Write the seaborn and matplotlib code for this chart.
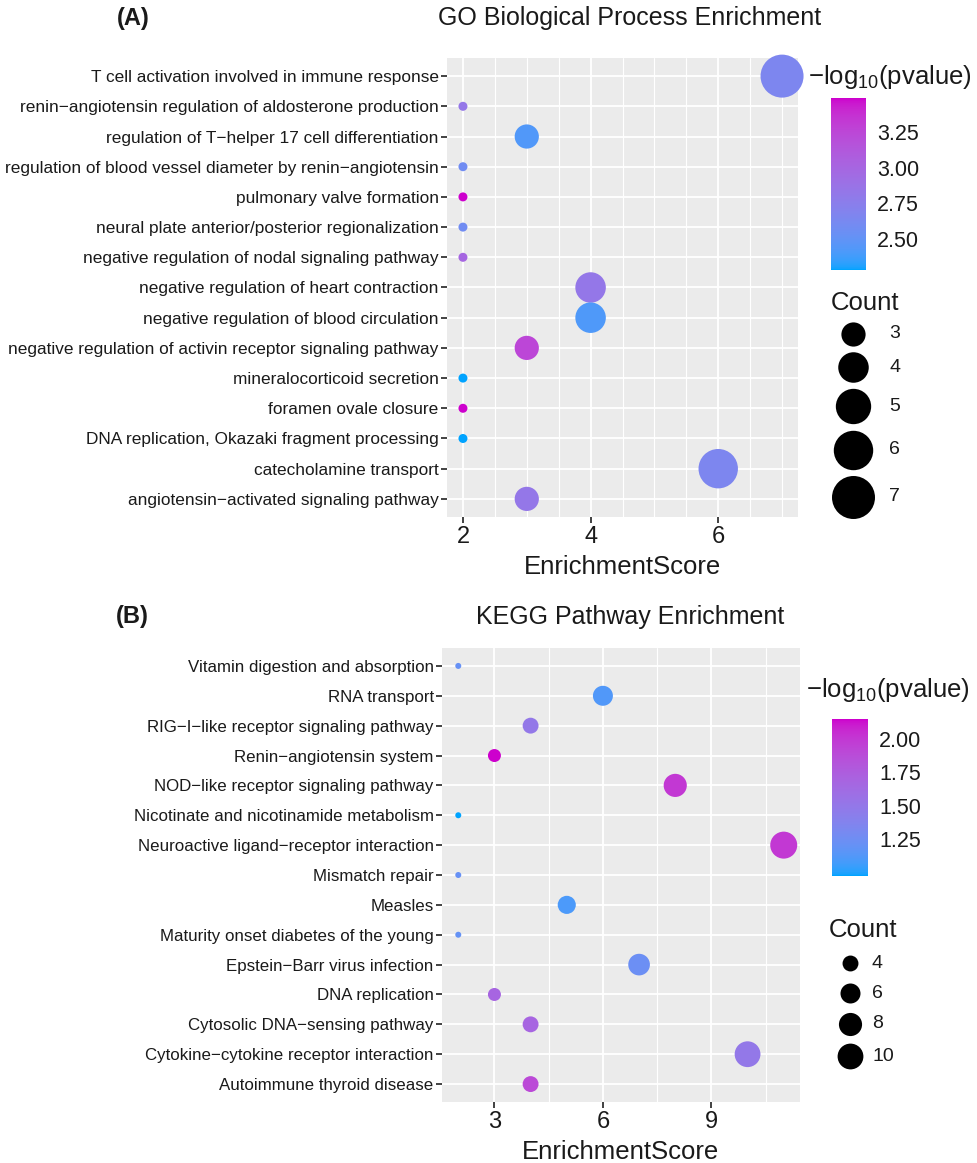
import numpy as np
import pandas as pd
import matplotlib
matplotlib.use("Agg")
import matplotlib.pyplot as plt
import seaborn as sns
from matplotlib.colors import LinearSegmentedColormap, Normalize, to_rgb
from matplotlib.cm import ScalarMappable
from matplotlib.ticker import FixedLocator, MultipleLocator

# ── DATA ──
go_terms = [
    "T cell activation involved in immune response",
    "renin\u2212angiotensin regulation of aldosterone production",
    "regulation of T\u2212helper 17 cell differentiation",
    "regulation of blood vessel diameter by renin\u2212angiotensin",
    "pulmonary valve formation",
    "neural plate anterior/posterior regionalization",
    "negative regulation of nodal signaling pathway",
    "negative regulation of heart contraction",
    "negative regulation of blood circulation",
    "negative regulation of activin receptor signaling pathway",
    "mineralocorticoid secretion",
    "foramen ovale closure",
    "DNA replication, Okazaki fragment processing",
    "catecholamine transport",
    "angiotensin\u2212activated signaling pathway",
]
go_score = [7, 2, 3, 2, 2, 2, 2, 4, 4, 3, 2, 2, 2, 6, 3]
go_count = [7, 2, 3, 2, 2, 2, 2, 4, 4, 3, 2, 2, 2, 6, 3]
go_logp  = [2.65, 2.83, 2.43, 2.58, 3.49, 2.58, 3.00, 2.83, 2.42, 3.25,
            2.28, 3.49, 2.28, 2.65, 2.83]

kegg_terms = [
    "Vitamin digestion and absorption",
    "RNA transport",
    "RIG\u2212I\u2212like receptor signaling pathway",
    "Renin\u2212angiotensin system",
    "NOD\u2212like receptor signaling pathway",
    "Nicotinate and nicotinamide metabolism",
    "Neuroactive ligand\u2212receptor interaction",
    "Mismatch repair",
    "Measles",
    "Maturity onset diabetes of the young",
    "Epstein\u2212Barr virus infection",
    "DNA replication",
    "Cytosolic DNA\u2212sensing pathway",
    "Cytokine\u2212cytokine receptor interaction",
    "Autoimmune thyroid disease",
]
kegg_score = [2, 6, 4, 3, 8, 2, 11, 2, 5, 2, 7, 3, 4, 10, 4]
kegg_count = [2, 6, 4, 3, 8, 2, 11, 2, 5, 2, 7, 3, 4, 10, 4]
kegg_logp  = [1.21, 1.12, 1.50, 2.15, 2.00, 0.975, 2.00, 1.21, 1.10, 1.20,
              1.24, 1.68, 1.68, 1.50, 1.90]

go_xticks, kegg_xticks = [2, 4, 6], [3, 6, 9]
go_cticks, kegg_cticks = [2.50, 2.75, 3.00, 3.25], [1.25, 1.50, 1.75, 2.00]
go_breaks, kegg_breaks = [3, 4, 5, 6, 7], [4, 6, 8, 10]

# ── STYLE ──
W, H, DPI = 978, 1163, 100
LOW, HIGH = "#00A3FF", "#CD00CD"

sns.set_style("darkgrid", {"axes.facecolor": "#EBEBEB", "grid.color": "white"})
plt.rcParams["font.family"] = ["Liberation Sans", "DejaVu Sans"]
plt.rcParams["mathtext.fontset"] = "custom"
plt.rcParams["mathtext.rm"] = "Liberation Sans"
plt.rcParams["mathtext.it"] = "Liberation Sans:italic"
TXT = "#1A1A1A"

# ggplot-like gradient, interpolated in CIELAB
M = np.array([[0.4124, 0.3576, 0.1805],
              [0.2126, 0.7152, 0.0722],
              [0.0193, 0.1192, 0.9505]])
WHITE = np.array([0.95047, 1.0, 1.08883])

def to_lab(hexc):
    rgb = np.array(to_rgb(hexc))
    lin = np.where(rgb <= 0.04045, rgb / 12.92, ((rgb + 0.055) / 1.055) ** 2.4)
    xyz = M @ lin / WHITE
    f = np.where(xyz > 0.008856, np.cbrt(xyz), 7.787 * xyz + 16 / 116)
    return np.array([116 * f[1] - 16, 500 * (f[0] - f[1]), 200 * (f[1] - f[2])])

def from_lab(lab):
    fy = (lab[:, 0] + 16) / 116
    f = np.stack([fy + lab[:, 1] / 500, fy, fy - lab[:, 2] / 200], 1)
    xyz = np.where(f ** 3 > 0.008856, f ** 3, (f - 16 / 116) / 7.787) * WHITE
    lin = np.clip(xyz @ np.linalg.inv(M).T, 0, 1)
    rgb = np.where(lin <= 0.0031308, 12.92 * lin, 1.055 * lin ** (1 / 2.4) - 0.055)
    return np.clip(rgb, 0, 1)

t = np.linspace(0, 1, 256)[:, None]
cmap = LinearSegmentedColormap.from_list(
    "gg", from_lab(to_lab(LOW) * (1 - t) + to_lab(HIGH) * t))

def area_fn(counts, dmin, dmax):
    lo, hi = min(counts), max(counts)
    def f(c):
        d = dmin + (dmax - dmin) * np.sqrt((c - lo) / (hi - lo))
        return (d * 72 / DPI) ** 2
    return f

def px_rect(l, t_, r, b):
    return [l / W, 1 - b / H, (r - l) / W, (b - t_) / H]

fig = plt.figure(figsize=(W / DPI, H / DPI), dpi=DPI)
ov = fig.add_axes([0, 0, 1, 1])
ov.set_xlim(0, W); ov.set_ylim(H, 0); ov.axis("off")

def panel(rect, cbar_rect, terms, score, count, logp, xticks, minor_step,
          cticks, breaks, dmin, dmax, ysize, leg):
    ax = fig.add_axes(rect)
    df = pd.DataFrame({"Term": terms, "EnrichmentScore": score,
                       "Count": count, "logp": logp})
    norm = Normalize(min(logp), max(logp))
    af = area_fn(count, dmin, dmax)
    sns.scatterplot(data=df, x="EnrichmentScore", y="Term", hue="logp",
                    size="Count", palette=cmap, hue_norm=norm,
                    sizes={c: af(c) for c in set(count)}, legend=False,
                    linewidth=0, clip_on=False, zorder=3, ax=ax)
    n = len(terms)
    lo, hi = min(score), max(score)
    pad = 0.05 * (hi - lo)
    ax.set_xlim(lo - pad, hi + pad)
    ax.set_ylim(n - 0.4, -0.6)
    ax.set_yticks(range(n))
    ax.set_yticklabels(terms)
    ax.xaxis.set_major_locator(FixedLocator(xticks))
    ax.xaxis.set_minor_locator(MultipleLocator(minor_step))
    ax.grid(which="major", color="white", lw=1.3)
    ax.grid(which="minor", axis="x", color="white", lw=0.8)
    ax.tick_params(which="major", bottom=True, left=True, length=4.5,
                   width=1.3, color="#333333", direction="out")
    ax.tick_params(which="minor", length=0)
    ax.tick_params(axis="y", labelsize=ysize, labelcolor=TXT, pad=1.5)
    ax.tick_params(axis="x", labelsize=17, labelcolor=TXT, pad=2)
    for s in ax.spines.values():
        s.set_visible(False)
    ax.set_ylabel("")
    ax.set_xlabel("EnrichmentScore", fontsize=18.5, color=TXT, labelpad=5)

    # colour bar
    cax = fig.add_axes(cbar_rect)
    cb = fig.colorbar(ScalarMappable(norm=norm, cmap=cmap), cax=cax)
    cb.outline.set_visible(False)
    cb.set_ticks(cticks)
    cb.set_ticklabels([f"{v:.2f}" for v in cticks])
    cax.tick_params(direction="in", length=6, width=0.8, color="white",
                    left=True, right=True, labelsize=15.5, labelcolor=TXT, pad=8)
    cax.grid(False)

    # texts and size legend (pixel positions on overlay)
    ov.text(leg["title_x"], leg["title_y"], leg["title"], fontsize=18,
            color=TXT, ha="center", va="center")
    ov.text(leg["ptag_x"], leg["title_y"], leg["tag"], fontsize=17,
            fontweight="bold", color=TXT, ha="center", va="center")
    ov.text(leg["cb_x"], leg["cb_y"], "\u2212log$_{10}$(pvalue)",
            fontsize=18.5, color=TXT, ha="left", va="center")
    ov.text(leg["cnt_x"], leg["cnt_y"], "Count", fontsize=18.5, color=TXT,
            ha="left", va="center")
    y = leg["row0"]
    prev = None
    for b in breaks:
        d = np.sqrt(af(b)) * DPI / 72
        h = max(leg["kmin"], d + leg["kpad"])
        if prev is not None:
            y += (prev + h) / 2
        ov.scatter([leg["key_x"]], [y], s=af(b), color="black", lw=0)
        ov.text(leg["lab_x"], y, str(b), fontsize=14, color=TXT,
                ha="left", va="center")
        prev = h
    return ax

panel(px_rect(447, 58, 798, 517), px_rect(831, 98, 866, 270),
      go_terms, go_score, go_count, go_logp, go_xticks, 0.5, go_cticks,
      go_breaks, 9, 43, 12.4,
      dict(title="GO Biological Process Enrichment", tag="(A)",
           title_x=630, title_y=18, ptag_x=133,
           cb_x=808, cb_y=77, cnt_x=831, cnt_y=303,
           row0=334, key_x=853, lab_x=889, kmin=30, kpad=6))

panel(px_rect(442, 648, 800, 1102), px_rect(832, 719, 868, 876),
      kegg_terms, kegg_score, kegg_count, kegg_logp, kegg_xticks, 1.5,
      kegg_cticks, kegg_breaks, 6, 27, 12.2,
      dict(title="KEGG Pathway Enrichment", tag="(B)",
           title_x=630, title_y=617, ptag_x=132,
           cb_x=806, cb_y=690, cnt_x=829, cnt_y=930,
           row0=963, key_x=850, lab_x=872, kmin=30, kpad=8))

fig.savefig("out.png", dpi=DPI)
